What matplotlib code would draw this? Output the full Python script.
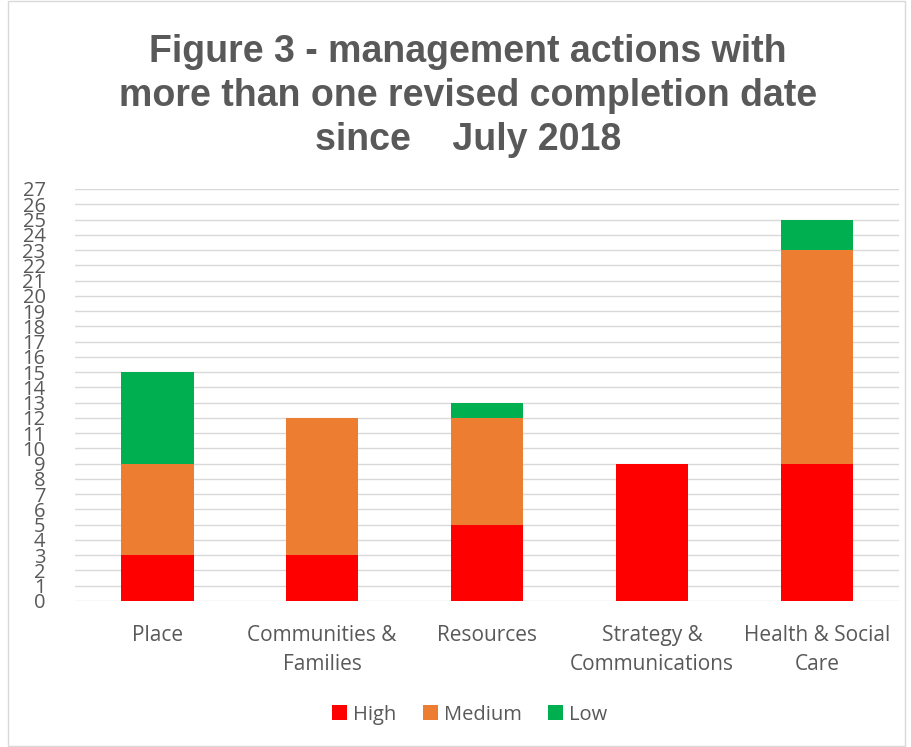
import matplotlib
matplotlib.use("Agg")
import matplotlib.pyplot as plt
from matplotlib.patches import Rectangle
import numpy as np

categories = ["Place", "Communities &\nFamilies", "Resources",
              "Strategy &\nCommunications", "Health & Social\nCare"]
high = [3, 3, 5, 9, 9]
medium = [6, 9, 7, 0, 14]
low = [6, 0, 1, 0, 2]

colors = {"High": "#FF0000", "Medium": "#ED7D31", "Low": "#00B050"}
text_gray = "#595959"

plt.rcParams["font.family"] = ["Open Sans", "DejaVu Sans"]

fig = plt.figure(figsize=(9.12, 7.47), dpi=100)
ax = fig.add_axes([0.082, 0.1955, 0.904, 0.5515])

x = np.arange(len(categories))
w = 0.44
b1 = np.array(high)
b2 = b1 + np.array(medium)
ax.bar(x, high, w, color=colors["High"], label="High", zorder=3)
ax.bar(x, medium, w, bottom=b1, color=colors["Medium"], label="Medium", zorder=3)
ax.bar(x, low, w, bottom=b2, color=colors["Low"], label="Low", zorder=3)

ax.set_xlim(-0.5, len(categories) - 0.5)
ax.set_ylim(0, 27)
ax.set_yticks(range(0, 28))
ax.grid(axis="y", color="#d9d9d9", lw=1, zorder=0)
for s in ax.spines.values():
    s.set_visible(False)
ax.tick_params(axis="both", length=0, colors=text_gray, labelsize=14.5)
ax.tick_params(axis="y", pad=21)
ax.tick_params(axis="x", pad=17)
ax.set_xticks(x)
ax.set_xticklabels(categories, linespacing=1.55, fontsize=15)

fig.suptitle("Figure 3 - management actions with\nmore than one revised completion date\nsince    July 2018",
             x=0.513, y=0.954, fontsize=27, fontweight="bold", color=text_gray,
             family="Liberation Sans", linespacing=1.28, va="top")

fig.legend(loc="center", bbox_to_anchor=(0.515, 0.043), ncol=3, frameon=False,
           fontsize=14.5, labelcolor=text_gray, handlelength=0.75, handleheight=0.75,
           handletextpad=0.3, columnspacing=1.3)

fig.patches.append(Rectangle((0.009, 0.002), 0.983, 0.996, transform=fig.transFigure,
                             fill=False, edgecolor="#d9d9d9", lw=1))

fig.savefig("out.png", dpi=100)
